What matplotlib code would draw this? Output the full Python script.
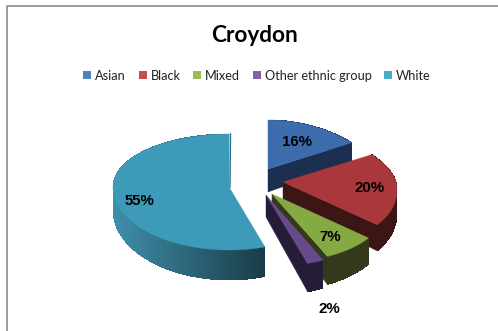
import numpy as np
import matplotlib
matplotlib.use("Agg")
import matplotlib.pyplot as plt
from matplotlib.patches import Patch

groups = ["Asian", "Black", "Mixed", "Other ethnic group", "White"]
shares = [16, 20, 7, 2, 55]

legend_colors = ["#4f81bd", "#c0504d", "#9bbb59", "#8064a2", "#4bacc6"]
top_colors = ["#3d6cad", "#a9373b", "#85aa43", "#674a8c", "#3d9ab8"]
side_colors = ["#1c2f50", "#3c1515", "#33391a", "#261c38", "#1b3d49"]

# exploded slice geometry, in pixels: apex, radii, thickness
apex_x = [268, 283, 272, 266, 229]
apex_y = [169, 182, 194, 195, 187]
radius_x = [109, 113, 113, 116, 116]
radius_top = [49, 51, 51, 51, 53]
radius_bot = [62, 67, 69, 72, 63]
perspective = [0.17, 0.13, 0.17, 0.17, 0.0]
depth = [23, 22, 22, 22, 23]
label_xy = [(297, 142), (370, 188), (330, 237), (329, 309), (140, 201)]


def top_point(i, theta, r=1.0):
    # x shrinks towards the back of the pie, y is squashed differently front and back
    c = np.cos(theta)
    x = apex_x[i] + r * radius_x[i] * np.sin(theta) * (1 - perspective[i] * c)
    y = apex_y[i] - r * c * np.where(c > 0, radius_top[i], radius_bot[i])
    return x, y


def drop(i, theta, r=1.0):
    return depth[i] * (1 - 0.3 * r * np.cos(theta))


def mix(c1, c2, t):
    a = np.array(matplotlib.colors.to_rgb(c1))
    b = np.array(matplotlib.colors.to_rgb(c2))
    return tuple(a + (b - a) * t)


fig = plt.figure(figsize=(4.98, 3.31), dpi=100)
ax = fig.add_axes([0, 0, 1, 1])
ax.set_xlim(0, 498)
ax.set_ylim(331, 0)
ax.axis("off")

# chart frame, open on the right and at the bottom
ax.plot([6.5, 6.5, 498], [331, 5.5, 5.5], color="#8a8a8a", lw=1.2)

edges = np.radians(np.cumsum([0] + shares) * 3.6)

for i in [4, 0, 1, 2, 3]:
    start, end = edges[i], edges[i + 1]
    thetas = np.linspace(start, end, max(int(shares[i] * 3), 12))
    xs, ys = top_point(i, thetas)

    # cut face on the clockwise end of the slice
    if i != 4:
        ex, ey = top_point(i, end)
        ax.fill([apex_x[i], ex, ex, apex_x[i]],
                [apex_y[i], ey, ey + drop(i, end), apex_y[i] + drop(i, 0, 0)],
                color=side_colors[i], lw=0.3)

    # outer wall, strip by strip so the big slice can carry a gradient
    for j in range(len(thetas) - 1):
        d0, d1 = drop(i, thetas[j]), drop(i, thetas[j + 1])
        color = side_colors[i]
        if i == 4:
            t = np.clip((xs[j] - 113) / 150, 0, 1)
            color = mix("#3f8fab", "#1b3d49", t)
        ax.fill([xs[j], xs[j + 1], xs[j + 1], xs[j]],
                [ys[j], ys[j + 1], ys[j + 1] + d1, ys[j] + d0],
                color=color, lw=0, antialiased=False)

    # thin sliver of the white slice's start face
    if i == 4:
        ex, ey = top_point(i, end)
        ax.plot([apex_x[i] + 1, ex + 1.5], [apex_y[i], ey], color="#2b6b82", lw=1.0)

    ax.fill(np.r_[apex_x[i], xs], np.r_[apex_y[i], ys], color=top_colors[i], lw=0.3)

for share, (lx, ly) in zip(shares, label_xy):
    ax.text(lx, ly, f"{share}%", ha="center", va="center", fontsize=10.8,
            fontweight="bold", family="Liberation Sans", color="black")

ax.text(254.5, 35, "Croydon", ha="center", va="center", fontsize=16.3,
        fontweight="bold", family="Lato", color="black")

handles = [Patch(facecolor=c, edgecolor="none") for c in legend_colors]
ax.legend(handles, groups, ncol=5, frameon=False, loc="center",
          bbox_to_anchor=(257 / 498, 1 - 75.5 / 331),
          prop={"family": "Lato", "size": 9.2},
          handlelength=0.62, handleheight=0.62, handletextpad=0.3,
          columnspacing=1.0, labelcolor="#222222", borderpad=0, borderaxespad=0)

fig.savefig("out.png", dpi=100)
